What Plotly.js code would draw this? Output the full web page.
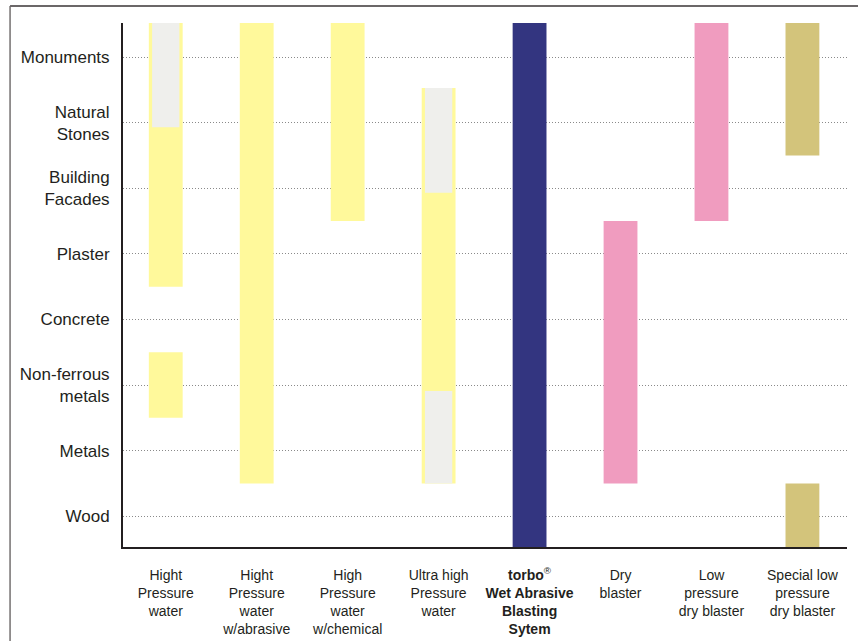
<!DOCTYPE html>
<html>
<head>
<meta charset="utf-8">
<script src="https://cdn.plot.ly/plotly-3.0.1.min.js"></script>
<style>html,body{margin:0;padding:0;background:#fff;}#chart{width:858px;height:641px;}</style>
</head>
<body>
<div id="chart"></div>
<script>
// Cleaning methods (x) and surfaces (y)
const methods = [
  'Hight<br>Pressure<br>water',
  'Hight<br>Pressure<br>water<br>w/abrasive',
  'High<br>Pressure<br>water<br>w/chemical',
  'Ultra high<br>Pressure<br>water',
  '<b>torbo</b><sup>®</sup><br><b>Wet Abrasive</b><br><b>Blasting</b><br><b>Sytem</b>',
  'Dry<br>blaster',
  'Low<br>pressure<br>dry blaster',
  'Special low<br>pressure<br>dry blaster'
];
const materials = ['Wood', 'Metals', 'Non-ferrous<br>metals', 'Concrete', 'Plaster', 'Building<br>Facades', 'Natural<br>Stones', 'Monuments'];

// Range segments (column index, from, to) in surface units
const yellowCol  = [0, 0, 1, 2, 3];
const yellowFrom = [3.5, 1.5, 0.5, 4.5, 0.5];
const yellowTo   = [7.52, 2.5, 7.52, 7.52, 6.53];

const grayCol  = [0, 3, 3];
const grayFrom = [5.93, 4.93, 0.5];
const grayTo   = [7.52, 6.53, 1.91];

const navyCol  = [4];
const navyFrom = [-0.47];
const navyTo   = [7.52];

const pinkCol  = [5, 6];
const pinkFrom = [0.5, 4.5];
const pinkTo   = [4.5, 7.52];

const tanCol  = [7, 7];
const tanFrom = [5.5, -0.47];
const tanTo   = [7.52, 0.5];

function seg(cols, from, to, color, width) {
  return {
    type: 'bar',
    x: cols,
    base: from,
    y: to.map((t, i) => t - from[i]),
    width: cols.map(() => width),
    marker: {color: color, line: {width: 0}},
    hoverinfo: 'skip',
    showlegend: false
  };
}

const W = 0.372, WG = 0.30;
const data = [
  seg(yellowCol, yellowFrom, yellowTo, '#FFF99B', W),
  seg(grayCol, grayFrom, grayTo, '#EFEFEC', WG),
  seg(navyCol, navyFrom, navyTo, '#333580', W),
  seg(pinkCol, pinkFrom, pinkTo, '#F09CBF', W),
  seg(tanCol, tanFrom, tanTo, '#D3C47B', W)
];

const ink = '#231F20';
const layout = {
  width: 858, height: 641,
  margin: {l: 123, r: 11, t: 23, b: 94, pad: 0},
  paper_bgcolor: '#fff', plot_bgcolor: '#fff',
  barmode: 'overlay',
  font: {family: '"Liberation Sans", Arial, sans-serif', color: ink},
  xaxis: {
    range: [-0.47, 7.49],
    tickmode: 'array',
    tickvals: methods.map((m, i) => i),
    ticktext: methods,
    tickfont: {size: 14, color: ink},
    showgrid: false, zeroline: false,
    showline: true, linecolor: ink, linewidth: 2,
    ticks: '', ticklabelstandoff: 14,
    fixedrange: true
  },
  yaxis: {
    range: [-0.47, 7.52],
    tickmode: 'array',
    tickvals: materials.map((m, i) => i),
    ticktext: materials,
    tickfont: {size: 17, color: ink},
    showgrid: true, gridcolor: '#8a8a8a', griddash: '1px,2px', gridwidth: 1,
    zeroline: false,
    showline: true, linecolor: ink, linewidth: 2,
    ticks: '', ticklabelstandoff: 8,
    fixedrange: true
  },
  shapes: [
    {type: 'line', xref: 'paper', yref: 'paper', x0: -0.156, x1: 1.02, y0: 1.0324, y1: 1.0324,
     line: {color: '#3a3536', width: 1.6}},
    {type: 'line', xref: 'paper', yref: 'paper', x0: -0.156, x1: -0.156, y0: 1.0324, y1: -0.2,
     line: {color: '#6a6566', width: 1.4}}
  ]
};

Plotly.newPlot('chart', data, layout, {displayModeBar: false, staticPlot: true});
</script>
</body>
</html>
